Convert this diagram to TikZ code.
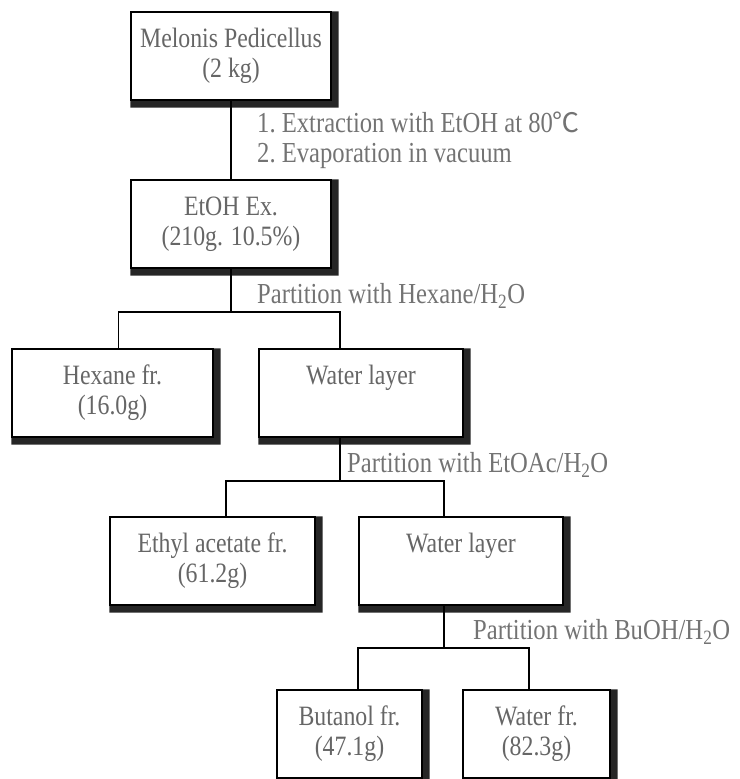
\documentclass[tikz,border=0pt]{standalone}
\usepackage{fontspec}
\setmainfont[FakeStretch=0.85]{Liberation Serif}
\newfontfamily\cjkfont{Noto Sans CJK JP}
\usetikzlibrary{positioning}

\tikzset{
  fraction/.style={draw, line width=1.2pt, fill=white, align=center, inner sep=0pt,
    minimum height=88pt, text=black!60, font=\fontsize{28}{30}\selectfont,
    append after command={\pgfextra{\fill[black!85]
      (\tikzlastnode.north east) -- ([xshift=7pt]\tikzlastnode.north east)
      -- ([xshift=7pt,yshift=-7pt]\tikzlastnode.south east)
      -- ([yshift=-7pt]\tikzlastnode.south west)
      -- (\tikzlastnode.south west) -- (\tikzlastnode.south east) -- cycle;}}},
  proc/.style={align=left, inner sep=0pt, text=black!55, font=\fontsize{29}{30}\selectfont},
  link/.style={line width=1.3pt}
}

\begin{document}
\begin{tikzpicture}[x=1pt, y=-1pt]
            \useasboundingbox (0,0) rectangle (739,779);

            % extraction
            \node[fraction, minimum width=200pt] (melon) at (231,56) {Melonis Pedicellus\\(2 kg)};
            \node[fraction, minimum width=200pt] (etoh) at (231,224) {EtOH Ex.\\(210g. 10.5\%)};
            \node[proc, anchor=west] (extract) at (257,140) {1.\ Extraction with EtOH at 80{\cjkfont\fontsize{27}{30}\selectfont ℃}\\2.\ Evaporation in vacuum};

            % first partition
            \node[fraction, minimum width=201pt] (hexane) at (112.5,393) {Hexane fr.\\(16.0g)};
            \node[fraction, minimum width=204pt] (water1) at (361,393) {Water layer\\\phantom{(0)}};
            \node[proc, anchor=west] (hexpart) at (257,296) {Partition with Hexane/H\textsubscript{2}O};

            % second partition
            \node[fraction, minimum width=205pt] (ethyl) at (212.5,561) {Ethyl acetate fr.\\(61.2g)};
            \node[fraction, minimum width=204pt] (water2) at (461,561) {Water layer\\\phantom{(0)}};
            \node[proc, anchor=west] (acpart) at (347,465) {Partition with EtOAc/H\textsubscript{2}O};

            % third partition
            \node[fraction, minimum width=145pt] (butanol) at (349.5,734) {Butanol fr.\\(47.1g)};
            \node[fraction, minimum width=147pt] (waterfr) at (536.5,734) {Water fr.\\(82.3g)};
            \node[proc, anchor=west] (bupart) at (473,632) {Partition with BuOH/H\textsubscript{2}O};

            \coordinate (split1) at (231,312);
            \coordinate (split2) at (340,481);
            \coordinate (split3) at (444,648);

            \draw[link] (melon) -- (etoh);
            \draw[link] (etoh) -- (split1);
            \draw[link] ([xshift=6pt]hexane.north) |- (split1) -| ([xshift=-21pt]water1.north);
            \draw[link] ([xshift=-21pt]water1.south) -- (split2);
            \draw[link] ([xshift=13.5pt]ethyl.north) |- (split2) -| ([xshift=-17pt]water2.north);
            \draw[link] ([xshift=-17pt]water2.south) -- (split3);
            \draw[link] ([xshift=8.5pt]butanol.north) |- (split3) -| ([xshift=-7.5pt]waterfr.north);
        \end{tikzpicture}
\end{document}
